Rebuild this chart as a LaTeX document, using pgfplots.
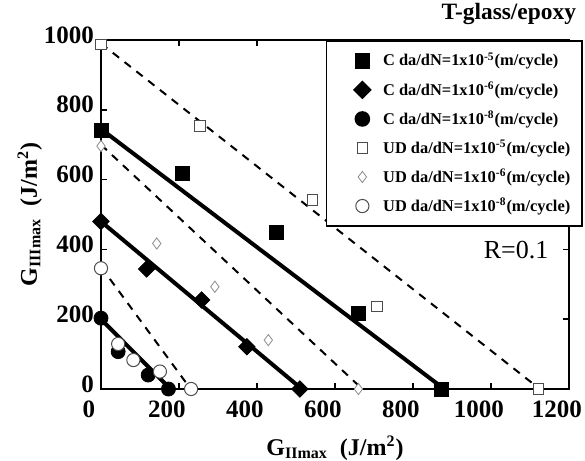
\documentclass[border=0pt]{standalone}
\usepackage{fontspec}
\setmainfont{Liberation Serif}
\usepackage{pgfplots}
\pgfplotsset{compat=1.18}

\begin{document}
\begin{tikzpicture}
\begin{axis}[
  scale only axis, width=234pt, height=174.5pt,
  xmin=0, xmax=1200, ymin=0, ymax=1000,
  xtick={0,200,...,1200}, ytick={0,200,...,1000},
  tick align=inside, major tick length=3pt,
  axis line style={line width=1pt},
  every tick/.style={black, line width=0.8pt},
  /pgf/number format/assume math mode=true,
  /pgf/number format/1000 sep={},
  tick label style={font=\bfseries\fontsize{12.5}{14}\selectfont, inner ysep=1pt},
  xticklabel style={xshift=-6pt, yshift=-4.5pt},
  yticklabel style={yshift=2.5pt},
  clip=false,
  xlabel={\bfseries\fontsize{12}{14}\selectfont G\textsubscript{IImax}~~(J/m\textsuperscript{2})},
  ylabel={\bfseries\fontsize{12}{14}\selectfont G\textsubscript{IIImax}~~(J/m\textsuperscript{2})},
  xlabel style={at={(axis description cs:0.5,0)}, anchor=base, yshift=-33pt},
  ylabel style={at={(axis description cs:-0.137,0.5)}, anchor=base},
  legend style={at={(1.03,1)}, anchor=north east, draw=black, line width=0.8pt,
    font=\bfseries\fontsize{8.2}{10}\selectfont, row sep=2.4pt,
    inner xsep=4pt, inner ysep=4pt},
  legend cell align=left,
  legend image code/.code={\path (0pt,0pt) (21.5pt,0pt);
    \draw[mark repeat=2,mark phase=2] plot coordinates {(6pt,0pt) (13.5pt,0pt) (21pt,0pt)};},
]
% fitted lines
\addplot[forget plot, black, line width=2pt] coordinates {(0,745) (880,0)};
\addplot[forget plot, black, line width=2pt] coordinates {(0,480) (515,0)};
\addplot[forget plot, black, line width=2pt] coordinates {(0,200) (178,0)};
\addplot[forget plot, black, line width=1pt, dash pattern=on 4pt off 3.5pt] coordinates {(0,990) (1125,0)};
\addplot[forget plot, black, line width=1pt, dash pattern=on 4pt off 3.5pt] coordinates {(0,700) (670,0)};
\addplot[forget plot, black, line width=1pt, dash pattern=on 4pt off 3.5pt] coordinates {(0,350) (230,0)};
% C specimens
\addplot[only marks, mark=square*, mark size=3.5pt, mark options={fill=black}]
  coordinates {(0,740) (208,619) (451,450) (659,218) (874,0)};
\addlegendentry{C da/dN=1x10\textsuperscript{-5}(m/cycle)}
\addplot[only marks, mark=square*, mark size=2.9pt, mark options={fill=black, rotate=45}]
  coordinates {(0,480) (117,344) (258,255) (374,121) (510,0)};
\addlegendentry{C da/dN=1x10\textsuperscript{-6}(m/cycle)}
\addplot[only marks, mark=*, mark size=3.5pt, mark options={fill=black}]
  coordinates {(0,203) (44,107) (121,40) (173,0)};
\addlegendentry{C da/dN=1x10\textsuperscript{-8}(m/cycle)}
% UD specimens
\addplot[only marks, mark=square*, mark size=2.6pt, mark options={draw=black!70, fill=white, line width=0.4pt}]
  coordinates {(0,988) (254,754) (542,542) (707,236) (1121,0)};
\addlegendentry{UD da/dN=1x10\textsuperscript{-5}(m/cycle)}
\addplot[only marks, mark=diamond*, mark size=2.8pt, mark options={draw=black!45, fill=white, line width=0.4pt}]
  coordinates {(0,696) (143,417) (292,293) (429,140) (660,0)};
\addlegendentry{UD da/dN=1x10\textsuperscript{-6}(m/cycle)}
\addplot[only marks, mark=*, mark size=3.3pt, mark options={draw=black!70, fill=white, line width=0.5pt}]
  coordinates {(0,346) (44,129) (83,83) (151,50) (231,0)};
\addlegendentry{UD da/dN=1x10\textsuperscript{-8}(m/cycle)}
\node[anchor=base east, font=\bfseries\fontsize{11.7}{14}\selectfont] at (axis description cs:1.03,1.06) {T-glass/epoxy};
\node[font=\fontsize{13}{15}\selectfont] at (axis description cs:0.887,0.398) {R=0.1};
\end{axis}
\pgfresetboundingbox
\path ([shift={(-50.5pt,-36pt)}]current axis.south west) rectangle ([shift={(8pt,20pt)}]current axis.north east);
\end{tikzpicture}
\end{document}
